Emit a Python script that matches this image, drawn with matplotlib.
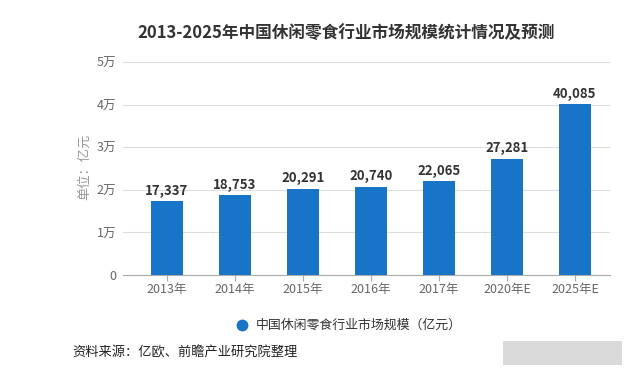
import matplotlib as mpl
import matplotlib.pyplot as plt
from matplotlib.patches import Rectangle

plt.rcParams['font.family'] = ['Noto Sans CJK SC', 'DejaVu Sans']

years = ['2013年', '2014年', '2015年', '2016年', '2017年', '2020年E', '2025年E']
market = [17337, 18753, 20291, 20740, 22065, 27281, 40085]
yticks = [0, 10000, 20000, 30000, 40000, 50000]
ytick_labels = ['0', '1万', '2万', '3万', '4万', '5万']

bar_col = '#1874c6'

fig = plt.figure(figsize=(6.4, 3.7), dpi=100)
# axes from x=123px to 610px, y=62px to 275px
ax = fig.add_axes([123 / 640, 1 - 275 / 370, 487 / 640, 213 / 370])

x = range(len(years))
ax.bar(x, market, width=0.47, color=bar_col, zorder=3)
for i, v in zip(x, market):
    ax.text(i, v + 800, f'{v:,}', ha='center', va='bottom', fontsize=9.5,
            fontweight='bold', color='#333333')

ax.set_ylim(0, 50000)
ax.set_xlim(-0.647, 6.515)
ax.set_yticks(yticks)
ax.set_yticklabels(ytick_labels, fontsize=9, color='#666666')
ax.set_xticks(list(x))
ax.set_xticklabels(years, fontsize=9, color='#666666')
ax.grid(axis='y', color='#dddddd', linewidth=0.8, zorder=0)
for s in ['top', 'right', 'left']:
    ax.spines[s].set_visible(False)
ax.spines['bottom'].set_color('#aaaaaa')
ax.tick_params(axis='y', length=0, pad=5)
ax.tick_params(axis='x', length=4, color='#aaaaaa', pad=2)

fig.text(85 / 640, 1 - 167 / 370, '单位：亿元', rotation=90, ha='center', va='center',
         fontsize=9.5, color='#999999')

fig.text(346 / 640, 1 - 33 / 370, '2013-2025年中国休闲零食行业市场规模统计情况及预测',
         ha='center', va='center', fontsize=12, fontweight='bold', color='#333333')

# legend
fig.lines.append(mpl.lines.Line2D([242 / 640], [1 - 325 / 370], marker='o', markersize=7.5,
                                  color=bar_col, transform=fig.transFigure))
fig.text(256 / 640, 1 - 325 / 370, '中国休闲零食行业市场规模（亿元）', ha='left', va='center',
         fontsize=9.3, fontweight='medium', color='#333333')

fig.text(72 / 640, 1 - 353 / 370, '资料来源：亿欧、前瞻产业研究院整理', ha='left', va='center',
         fontsize=9.5, color='#222222')

# blurred watermark block
fig.patches.append(Rectangle((503 / 640, 1 - 365 / 370), 119 / 640, 24 / 370,
                             transform=fig.transFigure, facecolor='#dadada', edgecolor='none'))

fig.savefig('out.png', dpi=100)
